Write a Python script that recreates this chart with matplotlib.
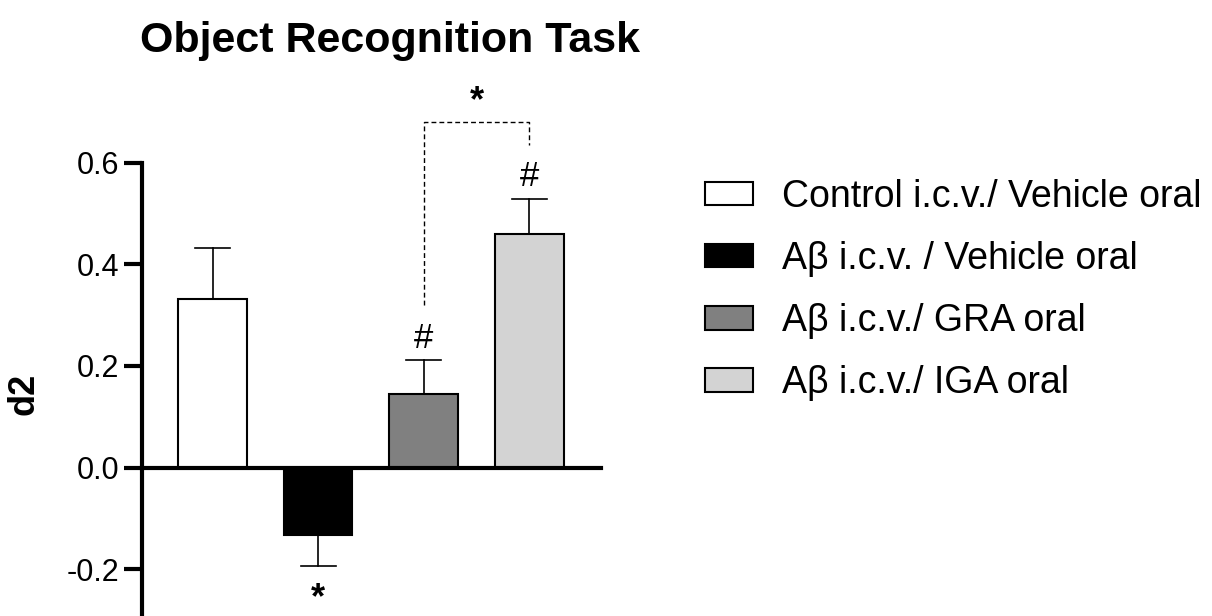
import matplotlib
matplotlib.use("Agg")
import matplotlib.pyplot as plt
from matplotlib.patches import Patch

plt.rcParams['font.family'] = ['Liberation Sans', 'DejaVu Sans']

# --*-- data --*-- #
groups = ["Control i.c.v./ Vehicle oral", "A\u03b2 i.c.v. / Vehicle oral",
          "A\u03b2 i.c.v./ GRA oral", "A\u03b2 i.c.v./ IGA oral"]
means = [0.332, -0.132, 0.145, 0.459]
sems = [0.100, 0.062, 0.066, 0.070]
colors = ["white", "black", "#808080", "#d3d3d3"]
yticks = [-0.2, 0.0, 0.2, 0.4, 0.6]
marks = ["", "*", "#", "#"]

fig = plt.figure(figsize=(12.12, 6.16), dpi=100)
ax = fig.add_axes([0.117, 0.0015, 0.379, 0.7345])

x = list(range(len(means)))
ax.bar(x, means, width=0.65, color=colors, edgecolor="black", linewidth=1.5, zorder=2)

# one-sided error bars (away from zero)
for xi, m, s in zip(x, means, sems):
    end = m + s if m >= 0 else m - s
    ax.plot([xi, xi], [m, end], color="black", lw=1.2, zorder=1)
    ax.plot([xi - 0.165, xi + 0.165], [end, end], color="black", lw=1.2, zorder=1)

# significance marks
for xi, m, s, t in zip(x, means, sems, marks):
    if not t:
        continue
    if m >= 0:
        ax.text(xi, m + s + 0.025, t, ha="center", va="baseline", fontsize=25, clip_on=False)
    else:
        ax.text(xi, m - s - 0.03, t, ha="center", va="top", fontsize=26,
                fontweight="bold", clip_on=False)

# bracket GRA vs IGA
ax.plot([2, 2, 3, 3], [0.32, 0.679, 0.679, 0.635], color="black", lw=1.0,
        ls=(0, (3.5, 2.2)), clip_on=False)
ax.text(2.5, 0.755, "*", ha="center", va="top", fontsize=26, fontweight="bold", clip_on=False)

ax.set_xlim(-0.67, 3.68)
ax.set_ylim(-0.29, 0.6)
ax.set_yticks(yticks)
ax.set_yticklabels([f"{v:.1f}" for v in yticks], fontsize=22)
ax.set_xticks([])
ax.spines['top'].set_visible(False)
ax.spines['right'].set_visible(False)
ax.spines['bottom'].set_position(('data', 0))
for sp in ['left', 'bottom']:
    ax.spines[sp].set_linewidth(3)
ax.tick_params(axis='y', length=13, width=3, pad=3.5)

fig.text(24 / 1212, 1 - 394 / 616, "d2", rotation=90, ha="center", va="center",
         fontsize=26, fontweight="bold")
fig.text(390 / 1212, 1 - 52 / 616, "Object Recognition Task", ha="center", va="baseline",
         fontsize=31, fontweight="bold")

handles = [Patch(facecolor=c, edgecolor="black", linewidth=1.5) for c in colors]
fig.legend(handles, groups, loc="upper left", bbox_to_anchor=(0.5817, 0.710),
           frameon=False, fontsize=27, handlelength=1.28, handleheight=0.59,
           handletextpad=0.77, labelspacing=0.70, borderaxespad=0, borderpad=0)

fig.savefig("out.png", dpi=100)
